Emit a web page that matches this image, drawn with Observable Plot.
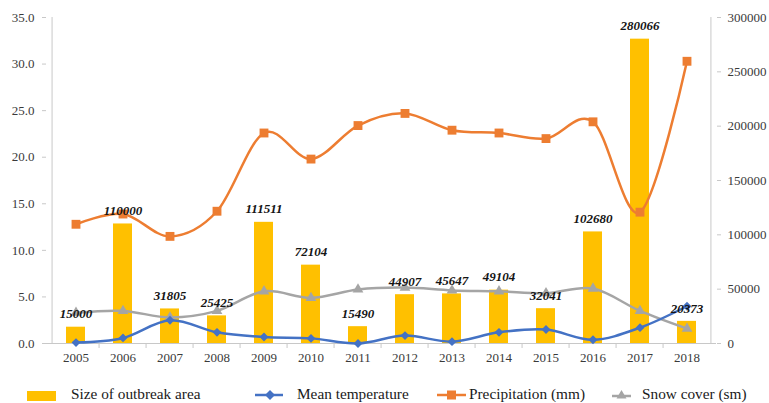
<!DOCTYPE html>
<html>
<head>
<meta charset="utf-8">
<script src="https://cdn.jsdelivr.net/npm/d3@7"></script>
<script src="https://cdn.jsdelivr.net/npm/@observablehq/plot@0.6"></script>
<style>
  body { margin: 0; background: #fff; }
  #chart { position: relative; width: 769px; height: 375px; }
  #chart svg { position: absolute; left: 0; top: 0; background: transparent; }
  #legend { position: relative; width: 769px; height: 28px; font-family: "Liberation Serif", "Times New Roman", serif; font-size: 15.3px; color: #1a1a1a; }
  #legend .item { position: absolute; top: 9px; height: 20px; line-height: 20px; white-space: nowrap; }
  #legend svg { position: absolute; top: 0; }
</style>
</head>
<body>
<div id="chart"></div>
<div id="legend"></div>
<script>
// Annual series, 2005–2018
const years = [2005, 2006, 2007, 2008, 2009, 2010, 2011, 2012, 2013, 2014, 2015, 2016, 2017, 2018];
const outbreakArea = [15000, 110000, 31805, 25425, 111511, 72104, 15490, 44907, 45647, 49104, 32041, 102680, 280066, 20373];
const meanTemperature = [0.1, 0.6, 2.5, 1.2, 0.7, 0.55, 0.0, 0.85, 0.2, 1.2, 1.5, 0.4, 1.7, 4.0];
const precipitation = [12.8, 13.9, 11.5, 14.2, 22.6, 19.8, 23.4, 24.7, 22.9, 22.6, 22.0, 23.8, 14.1, 30.3];
const snowCover = [3.3, 3.5, 2.8, 3.5, 5.6, 4.9, 5.8, 6.0, 5.7, 5.6, 5.4, 5.9, 3.5, 1.6];

// Axis ticks
const leftTicks = [0, 5, 10, 15, 20, 25, 30, 35];
const rightTicks = [0, 50000, 100000, 150000, 200000, 250000, 300000];

const rows = years.map((y, i) => ({
  year: String(y),
  area: outbreakArea[i],
  temp: meanTemperature[i],
  precip: precipitation[i],
  snow: snowCover[i]
}));

const W = 769, H = 375;
const frame = { width: W, height: H, marginLeft: 46, marginRight: 53, marginTop: 17, marginBottom: 32 };
const step = (W - frame.marginLeft - frame.marginRight) / years.length;
const xOpts = { type: "band", domain: years.map(String), paddingInner: 0.6, paddingOuter: 0.3, axis: null, label: null };
const font = { fontFamily: "Liberation Serif, Times New Roman, serif", fontSize: "13px", background: "transparent", overflow: "visible" };
const axisGray = "#c8c8c8";
const textColor = "#3a3a3a";
const smooth = d3.curveCatmullRom.alpha(0);

// Layer 1: bars on the right-hand scale, category axis, right axis
const bars = Plot.plot({
  ...frame,
  style: font,
  x: xOpts,
  y: { domain: [0, 300000], axis: null },
  marks: [
    Plot.barY(rows, { x: "year", y: "area", fill: "#FFC000" }),
    Plot.ruleY([0], { stroke: axisGray }),
    // tick marks between categories
    Plot.ruleX(rows.slice(1), { x: "year", dx: -step / 2, y1: 0, y2: 0, insetBottom: -5, stroke: axisGray }),
    // left and right axis lines
    Plot.ruleX(rows.slice(0, 1), { x: "year", dx: -step / 2, stroke: axisGray }),
    Plot.ruleX(rows.slice(-1), { x: "year", dx: step / 2, stroke: axisGray }),
    Plot.axisX({ anchor: "bottom", tickSize: 0, tickPadding: 9, fill: textColor, fontSize: 13, label: null }),
    Plot.axisY({ anchor: "right", ticks: rightTicks, tickFormat: d => String(d), tickSize: 4, tickPadding: 7, stroke: axisGray, fill: textColor, label: null, fontSize: 13 })
  ]
});

// Layer 2: climate lines on the left-hand scale
const lines = Plot.plot({
  ...frame,
  style: font,
  x: xOpts,
  y: { domain: [0, 35], axis: null },
  marks: [
    Plot.axisY({ anchor: "left", ticks: leftTicks, tickFormat: d => d.toFixed(1), tickSize: 4, tickPadding: 8, stroke: axisGray, fill: textColor, label: null, fontSize: 13 }),
    Plot.line(rows, { x: "year", y: "precip", stroke: "#ED7D31", strokeWidth: 2.5, curve: smooth }),
    Plot.dot(rows, { x: "year", y: "precip", symbol: "square", fill: "#ED7D31", r: 5 }),
    Plot.line(rows, { x: "year", y: "snow", stroke: "#A5A5A5", strokeWidth: 2.5, curve: smooth }),
    Plot.dot(rows, { x: "year", y: "snow", symbol: "triangle", fill: "#A5A5A5", r: 4 }),
    Plot.line(rows, { x: "year", y: "temp", stroke: "#4472C4", strokeWidth: 2.5, curve: smooth }),
    Plot.dot(rows, { x: "year", y: "temp", symbol: "diamond2", fill: "#4472C4", r: 4 })
  ]
});

// Layer 3: value labels above the bars
const labels = Plot.plot({
  ...frame,
  style: font,
  x: xOpts,
  y: { domain: [0, 300000], axis: null },
  marks: [
    Plot.text(rows, {
      x: "year", y: "area", text: d => String(d.area), dy: -13,
      fontWeight: "bold", fontStyle: "italic", fontSize: 13, fill: "#141414"
    })
  ]
});

const chart = document.getElementById("chart");
chart.append(bars, lines, labels);

// Legend
const legend = document.getElementById("legend");
legend.innerHTML = `
  <div class="item" style="left:27px;width:200px">
    <svg width="30" height="20" style="left:0"><rect x="0" y="7" width="29" height="10" fill="#FFC000"/></svg>
    <span style="position:absolute;left:44px">Size of outbreak area</span>
  </div>
  <div class="item" style="left:255px;width:200px">
    <svg width="30" height="20" style="left:0"><line x1="0" y1="11" x2="28" y2="11" stroke="#4472C4" stroke-width="2.5"/><path d="M15,6L20,11L15,16L10,11Z" fill="#4472C4"/></svg>
    <span style="position:absolute;left:42px">Mean temperature</span>
  </div>
  <div class="item" style="left:437px;width:200px">
    <svg width="30" height="20" style="left:0"><line x1="0" y1="11" x2="29" y2="11" stroke="#ED7D31" stroke-width="2.5"/><rect x="10" y="6.5" width="9" height="9" fill="#ED7D31"/></svg>
    <span style="position:absolute;left:32px">Precipitation (mm)</span>
  </div>
  <div class="item" style="left:612px;width:160px">
    <svg width="20" height="20" style="left:0"><line x1="0" y1="12" x2="19" y2="12" stroke="#A5A5A5" stroke-width="2.5"/><path d="M9.5,6L14.5,14.5L4.5,14.5Z" fill="#A5A5A5"/></svg>
    <span style="position:absolute;left:30px">Snow cover (sm)</span>
  </div>`;
</script>
</body>
</html>
